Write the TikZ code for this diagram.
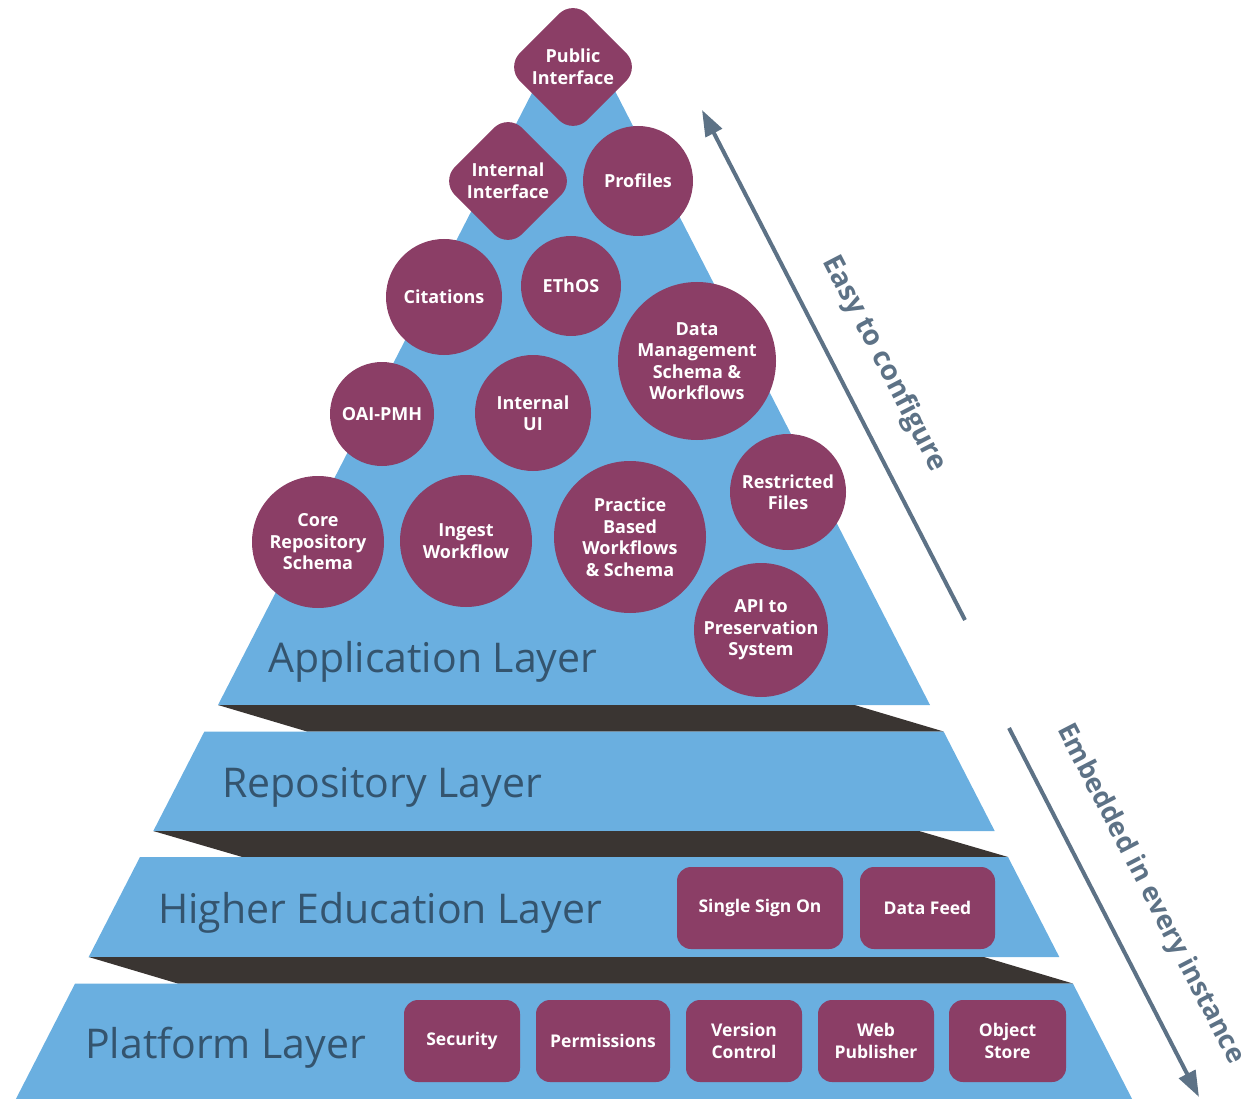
\documentclass[tikz,border=0pt]{standalone}
\usepackage{fontspec}
\setmainfont{Open Sans}
\newfontfamily\labelfont{Open Sans}
\usetikzlibrary{arrows.meta}
\definecolor{pyblue}{RGB}{106,175,224}
\definecolor{bandc}{RGB}{58,53,50}
\definecolor{plum}{RGB}{139,62,102}
\definecolor{slate}{RGB}{52,84,110}
\definecolor{arrowc}{RGB}{93,114,134}
\begin{document}
\begin{tikzpicture}[x=1pt,y=-1pt,
  layer/.style={fill=pyblue},
  bandbox/.style={fill=bandc},
  circ/.style={circle, fill=plum, text=white, align=center, inner sep=0pt,
    font=\bfseries\fontsize{18}{21.5}\selectfont},
  dia/.style={rectangle, fill=plum, minimum size=95pt, inner sep=0pt, rounded corners=20pt, rotate=45},
  diatext/.style={text=white, align=center, font=\bfseries\fontsize{18}{21.5}\selectfont},
  rbox/.style={rectangle, fill=plum, text=white, align=center, inner sep=0pt, rounded corners=14pt,
    minimum height=82pt, font=\bfseries\fontsize{17.5}{21.5}\selectfont},
  lbl/.style={anchor=base west, text=slate, inner sep=0pt, font=\labelfont\fontsize{41}{45}\selectfont},
  arr/.style={draw=arrowc, line width=4pt, -{Triangle[length=26pt,width=18pt]}},
  arrlbl/.style={text=arrowc, rotate=-62.7, inner sep=0pt, font=\bfseries\fontsize{28}{32}\selectfont}
]
\useasboundingbox (0,0) rectangle (1253,1099);
% layers
\fill[layer] (574,11) -- (930,705) -- (218,705) -- cycle;
\fill[bandbox] (218,705) -- (854.6,705) -- (943.6,731.5) -- (307,731.5) -- cycle;
\fill[layer] (204.4,731.5) -- (943.6,731.5) -- (994.7,831) -- (153.3,831) -- cycle;
\fill[bandbox] (153.3,831) -- (919,831) -- (1008,857) -- (242.3,857) -- cycle;
\fill[layer] (140,857) -- (1008,857) -- (1059.3,957) -- (88.7,957) -- cycle;
\fill[bandbox] (88.7,957) -- (983.9,957) -- (1072.9,983.5) -- (177.7,983.5) -- cycle;
\fill[layer] (75.1,983.5) -- (1072.9,983.5) -- (1132.1,1099) -- (15.9,1099) -- cycle;

% layer labels
\node[lbl] (appl) at (268,672) {Application Layer};
\node[lbl] (repl) at (222,797) {Repository Layer};
\node[lbl] (hel) at (158,923) {Higher Education Layer};
\node[lbl] (platl) at (85,1058) {Platform Layer};

% application layer elements
\node[dia] (pub) at (573,67) {};
\node[diatext] (pubt) at (pub) {Public\\Interface};
\node[dia] (int) at (508,181) {};
\node[diatext] (intt) at (int) {Internal\\Interface};
\node[circ, minimum size=110pt] (prof) at (638,181) {Profiles};
\node[circ, minimum size=116pt] (cit) at (444,297) {Citations};
\node[circ, minimum size=100pt] (ethos) at (571,286) {EThOS};
\node[circ, minimum size=158pt] (dm) at (697,361) {Data\\Management\\Schema \&\\Workflows};
\node[circ, minimum size=104pt] (oai) at (382,414) {OAI-PMH};
\node[circ, minimum size=116pt] (iui) at (533,413) {Internal\\UI};
\node[circ, minimum size=116pt] (rf) at (788,492) {Restricted\\Files};
\node[circ, minimum size=132pt] (core) at (318,542) {Core\\Repository\\Schema};
\node[circ, minimum size=132pt] (ing) at (466,541) {Ingest\\Workflow};
\node[circ, minimum size=152pt] (pbw) at (630,537) {Practice\\Based\\Workflows\\\& Schema};
\node[circ, minimum size=134pt] (api) at (761,630) {API to\\Preservation\\System};

% higher education
\node[rbox, minimum width=166pt] (sso) at (760,908) {Single Sign On};
\node[rbox, minimum width=135pt] (feed) at (927.5,908) {Data Feed};

% platform
\node[rbox, minimum width=116pt] (sec) at (462,1041) {Security};
\node[rbox, minimum width=134pt] (perm) at (603,1041) {Permissions};
\node[rbox, minimum width=116pt] (vc) at (744,1041) {Version\\Control};
\node[rbox, minimum width=116pt] (wp) at (876,1041) {Web\\Publisher};
\node[rbox, minimum width=117pt] (os) at (1007.5,1041) {Object\\Store};

% arrows
\coordinate (ea) at (965,620);
\coordinate (eb) at (702,110);
\draw[arr] (ea) -- (eb);
\node[arrlbl] (easy) at (884,364) {Easy to configure};
\coordinate (ma) at (1009,728);
\coordinate (mb) at (1199,1097);
\draw[arr] (ma) -- (mb);
\node[arrlbl, font=\bfseries\fontsize{27}{31}\selectfont] (emb) at (1150,894) {Embedded in every instance};
\end{tikzpicture}
\end{document}
